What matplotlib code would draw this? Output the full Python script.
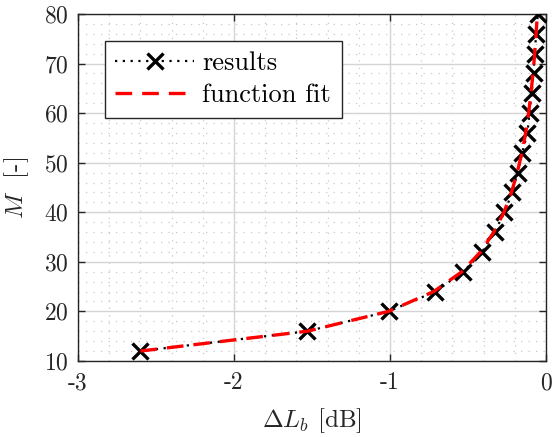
import matplotlib
matplotlib.use("Agg")
import matplotlib.pyplot as plt
from matplotlib.ticker import MultipleLocator

plt.rcParams['font.family'] = 'serif'
plt.rcParams['font.serif'] = ['cmr10', 'DejaVu Serif']
plt.rcParams['mathtext.fontset'] = 'cm'
plt.rcParams['axes.formatter.use_mathtext'] = True

M = [12, 16, 20, 24, 28, 32, 36, 40, 44, 48, 52, 56, 60, 64, 68, 72, 76, 80]
dL_results = [-2.60, -1.53, -1.01, -0.71, -0.53, -0.41, -0.33, -0.267, -0.217,
              -0.183, -0.153, -0.120, -0.106, -0.093, -0.080, -0.074, -0.063, -0.053]
dL_fit = [-2.60, -1.53, -1.01, -0.72, -0.54, -0.42, -0.335, -0.27, -0.222,
          -0.185, -0.155, -0.131, -0.112, -0.097, -0.084, -0.073, -0.064, -0.056]
xticks = [-3, -2, -1, 0]
xticklabels = ['-3', '-2', '-1', '0']
yticks = [10, 20, 30, 40, 50, 60, 70, 80]

fig = plt.figure(figsize=(5.52, 4.37), dpi=100)
ax = fig.add_axes([0.1413, 0.174, 0.848, 0.794])

ax.plot(dL_results, M, color='black', linestyle=(0, (1, 2.5)), linewidth=1.6,
        marker='x', markersize=11.5, markeredgewidth=2.4, label='results', zorder=3)
ax.plot(dL_fit, M, color='red', linestyle=(0, (5, 3)), linewidth=2.4,
        label='function fit', zorder=4)

ax.set_xlim(-3, 0)
ax.set_ylim(10, 80)
ax.set_xticks(xticks)
ax.set_xticklabels(xticklabels)
ax.set_yticks(yticks)
ax.xaxis.set_minor_locator(MultipleLocator(0.2))
ax.yaxis.set_minor_locator(MultipleLocator(2))

ax.grid(True, which='major', color='#d4d4d4', linewidth=1.0, linestyle='-')
ax.grid(True, which='minor', color='#c8c8c8', linewidth=0.9, linestyle=(0, (1, 5)))
ax.set_axisbelow(True)

ax.tick_params(which='major', direction='in', length=5, top=True, right=True,
               labelsize=17, width=1, colors='#262626', labelcolor='#262626')
ax.tick_params(axis='x', which='major', pad=8)
ax.tick_params(axis='y', which='major', pad=7)
ax.tick_params(which='minor', length=0, top=True, right=True)
for s in ax.spines.values():
    s.set_color('#262626')
    s.set_linewidth(1.0)

ax.set_xlabel(r'$\Delta L_b$ [dB]', fontsize=18, color='#262626', labelpad=9)
ax.set_ylabel(r'$M$  [-]', fontsize=18, color='#262626', labelpad=9)

leg = ax.legend(loc='upper left', bbox_to_anchor=(0.057, 0.922), borderaxespad=0,
                fontsize=19, frameon=True, fancybox=False, framealpha=1,
                edgecolor='#262626', handlelength=3.0, borderpad=0.4,
                labelspacing=0.3, handletextpad=0.3)
leg.get_frame().set_linewidth(1.0)

fig.savefig('out.png', dpi=100)
